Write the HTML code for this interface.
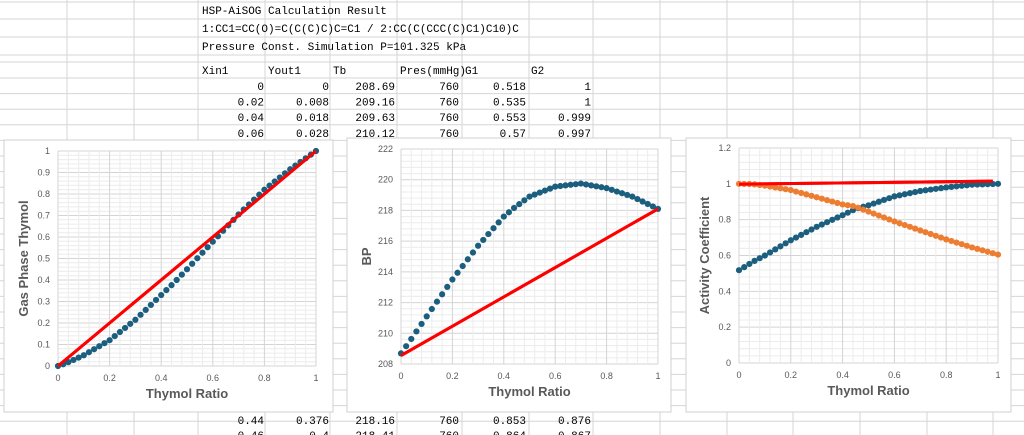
<!DOCTYPE html>
<html><head><meta charset="utf-8"><style>
html,body{margin:0;padding:0;background:#fff;width:1024px;height:435px;overflow:hidden}
svg{display:block}
text{font-family:"Liberation Sans",sans-serif}
.m{font-family:"Liberation Mono","Noto Sans CJK SC",monospace;font-size:11px;fill:#000}
</style></head><body>
<svg id="s" width="1024" height="435" xmlns="http://www.w3.org/2000/svg"></svg>
<script>
const s=document.getElementById('s');let h='';
const cols=[67,134,198,265,330,397,462,529,593,660,727,793,860,927,993];
const rows=[2,19,37,55,62];
for(let y=78;y<435;y+=15.6)rows.push(y);
cols.forEach(x=>h+=`<line x1="${x}" y1="0" x2="${x}" y2="435" stroke="#d6d6d6"/>`);
rows.forEach(y=>h+=`<line x1="0" y1="${y}" x2="1024" y2="${y}" stroke="#d6d6d6"/>`);
const T=(x,y,t,a)=>h+=`<text class="m" x="${x}" y="${y}" ${a?'text-anchor="end"':''}>${t}</text>`;
T(202,14,'HSP-AiSOG Calculation Result');
T(202,32,'1:CC1=CC(O)=C(C(C)C)C=C1 / 2:CC(C(CCC(C)C1)C10)C');
T(202,50,'Pressure Const. Simulation P=101.325 kPa');
['Xin1','Yout1','Tb','Pres(mmHg)','G1','G2'].forEach((t,i)=>T([202,268,333,400,465,531][i],74,t));
const data=[['0','0','208.69','760','0.518','1'],['0.02','0.008','209.16','760','0.535','1'],['0.04','0.018','209.63','760','0.553','0.999'],['0.06','0.028','210.12','760','0.57','0.997']];
const re=[264,329,395,459,526,591];
data.forEach((r,j)=>r.forEach((t,i)=>T(re[i],90+j*15.6,t,1)));
[['0.44','0.376','218.16','760','0.853','0.876'],['0.46','0.4','218.41','760','0.864','0.867']].forEach((r,j)=>r.forEach((t,i)=>T(re[i],424+j*15,t,1)));
function interp(pts,x){for(let i=0;i<pts.length-1;i++){const[a,b]=pts[i],[c,d]=pts[i+1];if(x<=c+1e-9){return b+(d-b)*(x-a)/(c-a)}}return pts[pts.length-1][1]}
function chart(bx,by,bw,bh,px0,px1,py0,py1,ymin,ymax,ystep,ylab,ydec,series,lines){
 h+=`<rect x="${bx}" y="${by}" width="${bw}" height="${bh}" fill="#fff" stroke="#d0d0d0"/>`;
 const X=v=>px0+(px1-px0)*v, Y=v=>py0-(py0-py1)*(v-ymin)/(ymax-ymin);
 const ny=Math.round((ymax-ymin)/ystep);
 for(let i=0;i<=ny*5;i++){const y=py0-(py0-py1)*i/(ny*5);h+=`<line x1="${px0}" x2="${px1}" y1="${y}" y2="${y}" stroke="${i%5?'#ececec':'#d4d4d4'}"/>`}
 for(let i=0;i<=25;i++){const x=px0+(px1-px0)*i/25;h+=`<line x1="${x}" x2="${x}" y1="${py1}" y2="${py0}" stroke="${i%5?'#ececec':'#d4d4d4'}"/>`}
 for(let i=0;i<=ny;i++){const v=ymin+i*ystep;h+=`<text x="${px0-8}" y="${Y(v)+3}" font-size="9" fill="#595959" text-anchor="end">${+v.toFixed(ydec)}</text>`}
 for(let i=0;i<=5;i++){h+=`<text x="${X(i/5)}" y="${py0+15}" font-size="9" fill="#595959" text-anchor="middle">${+(i/5).toFixed(1)}</text>`}
 h+=`<text x="${(px0+px1)/2}" y="${py0+32}" font-size="13" font-weight="bold" fill="#595959" text-anchor="middle">Thymol Ratio</text>`;
 const cy=(py0+py1)/2;h+=`<text transform="translate(${px0-30},${cy}) rotate(-90)" font-size="13" font-weight="bold" fill="#595959" text-anchor="middle">${ylab}</text>`;
 lines.forEach(l=>h+=`<line x1="${X(l[0])}" y1="${Y(l[1])}" x2="${X(l[2])}" y2="${Y(l[3])}" stroke="#f00" stroke-width="3"/>`);
 series.forEach(([pts,c])=>{for(let i=0;i<=50;i++){const x=i/50;h+=`<circle cx="${X(x)}" cy="${Y(interp(pts,x))}" r="3.1" fill="${c}"/>`}});
 lines.forEach(l=>{if(l[4])h+=`<line x1="${X(l[0])}" y1="${Y(l[1])}" x2="${X(l[2])}" y2="${Y(l[3])}" stroke="#f00" stroke-width="3"/>`});
}
const blue='#1b5e7e',orange='#ed7d31';
chart(4,140,329,272,58,316,366,151,0,1,0.1,'Gas Phase Thymol',1,
 [[[[0,0],[0.02,0.008],[0.04,0.018],[0.06,0.028],[0.1,0.05],[0.2,0.12],[0.3,0.215],[0.4,0.33],[0.44,0.376],[0.46,0.4],[0.5,0.45],[0.6,0.578],[0.7,0.705],[0.8,0.82],[0.9,0.915],[1,1]],blue]],
 [[0,0,1,1,1]]);
chart(347,138,324,274,401,658,364,149,208,222,2,'BP',0,
 [[[[0,208.69],[0.02,209.16],[0.04,209.63],[0.06,210.12],[0.1,211.1],[0.2,213.5],[0.3,215.7],[0.4,217.6],[0.44,218.16],[0.46,218.41],[0.5,218.9],[0.6,219.55],[0.7,219.75],[0.8,219.45],[0.9,218.9],[1,218.1]],blue]],
 [[0,208.55,1,218.1,1]]);
chart(686,138,325,274,739,998,363,148,0,1.2,0.2,'Activity Coefficient',1,
 [[[[0,0.518],[0.02,0.535],[0.04,0.553],[0.06,0.57],[0.1,0.6],[0.2,0.685],[0.3,0.76],[0.4,0.825],[0.44,0.853],[0.46,0.864],[0.5,0.88],[0.6,0.93],[0.7,0.96],[0.8,0.98],[0.9,0.995],[1,1]],blue],
  [[[0,1],[0.04,0.999],[0.06,0.997],[0.1,0.99],[0.2,0.965],[0.3,0.925],[0.4,0.885],[0.44,0.876],[0.46,0.867],[0.5,0.845],[0.6,0.79],[0.7,0.74],[0.8,0.69],[0.9,0.645],[1,0.605]],orange]],
 [[0,0.998,0.98,1.015,1]]);
s.innerHTML=h;
</script>
</body></html>
